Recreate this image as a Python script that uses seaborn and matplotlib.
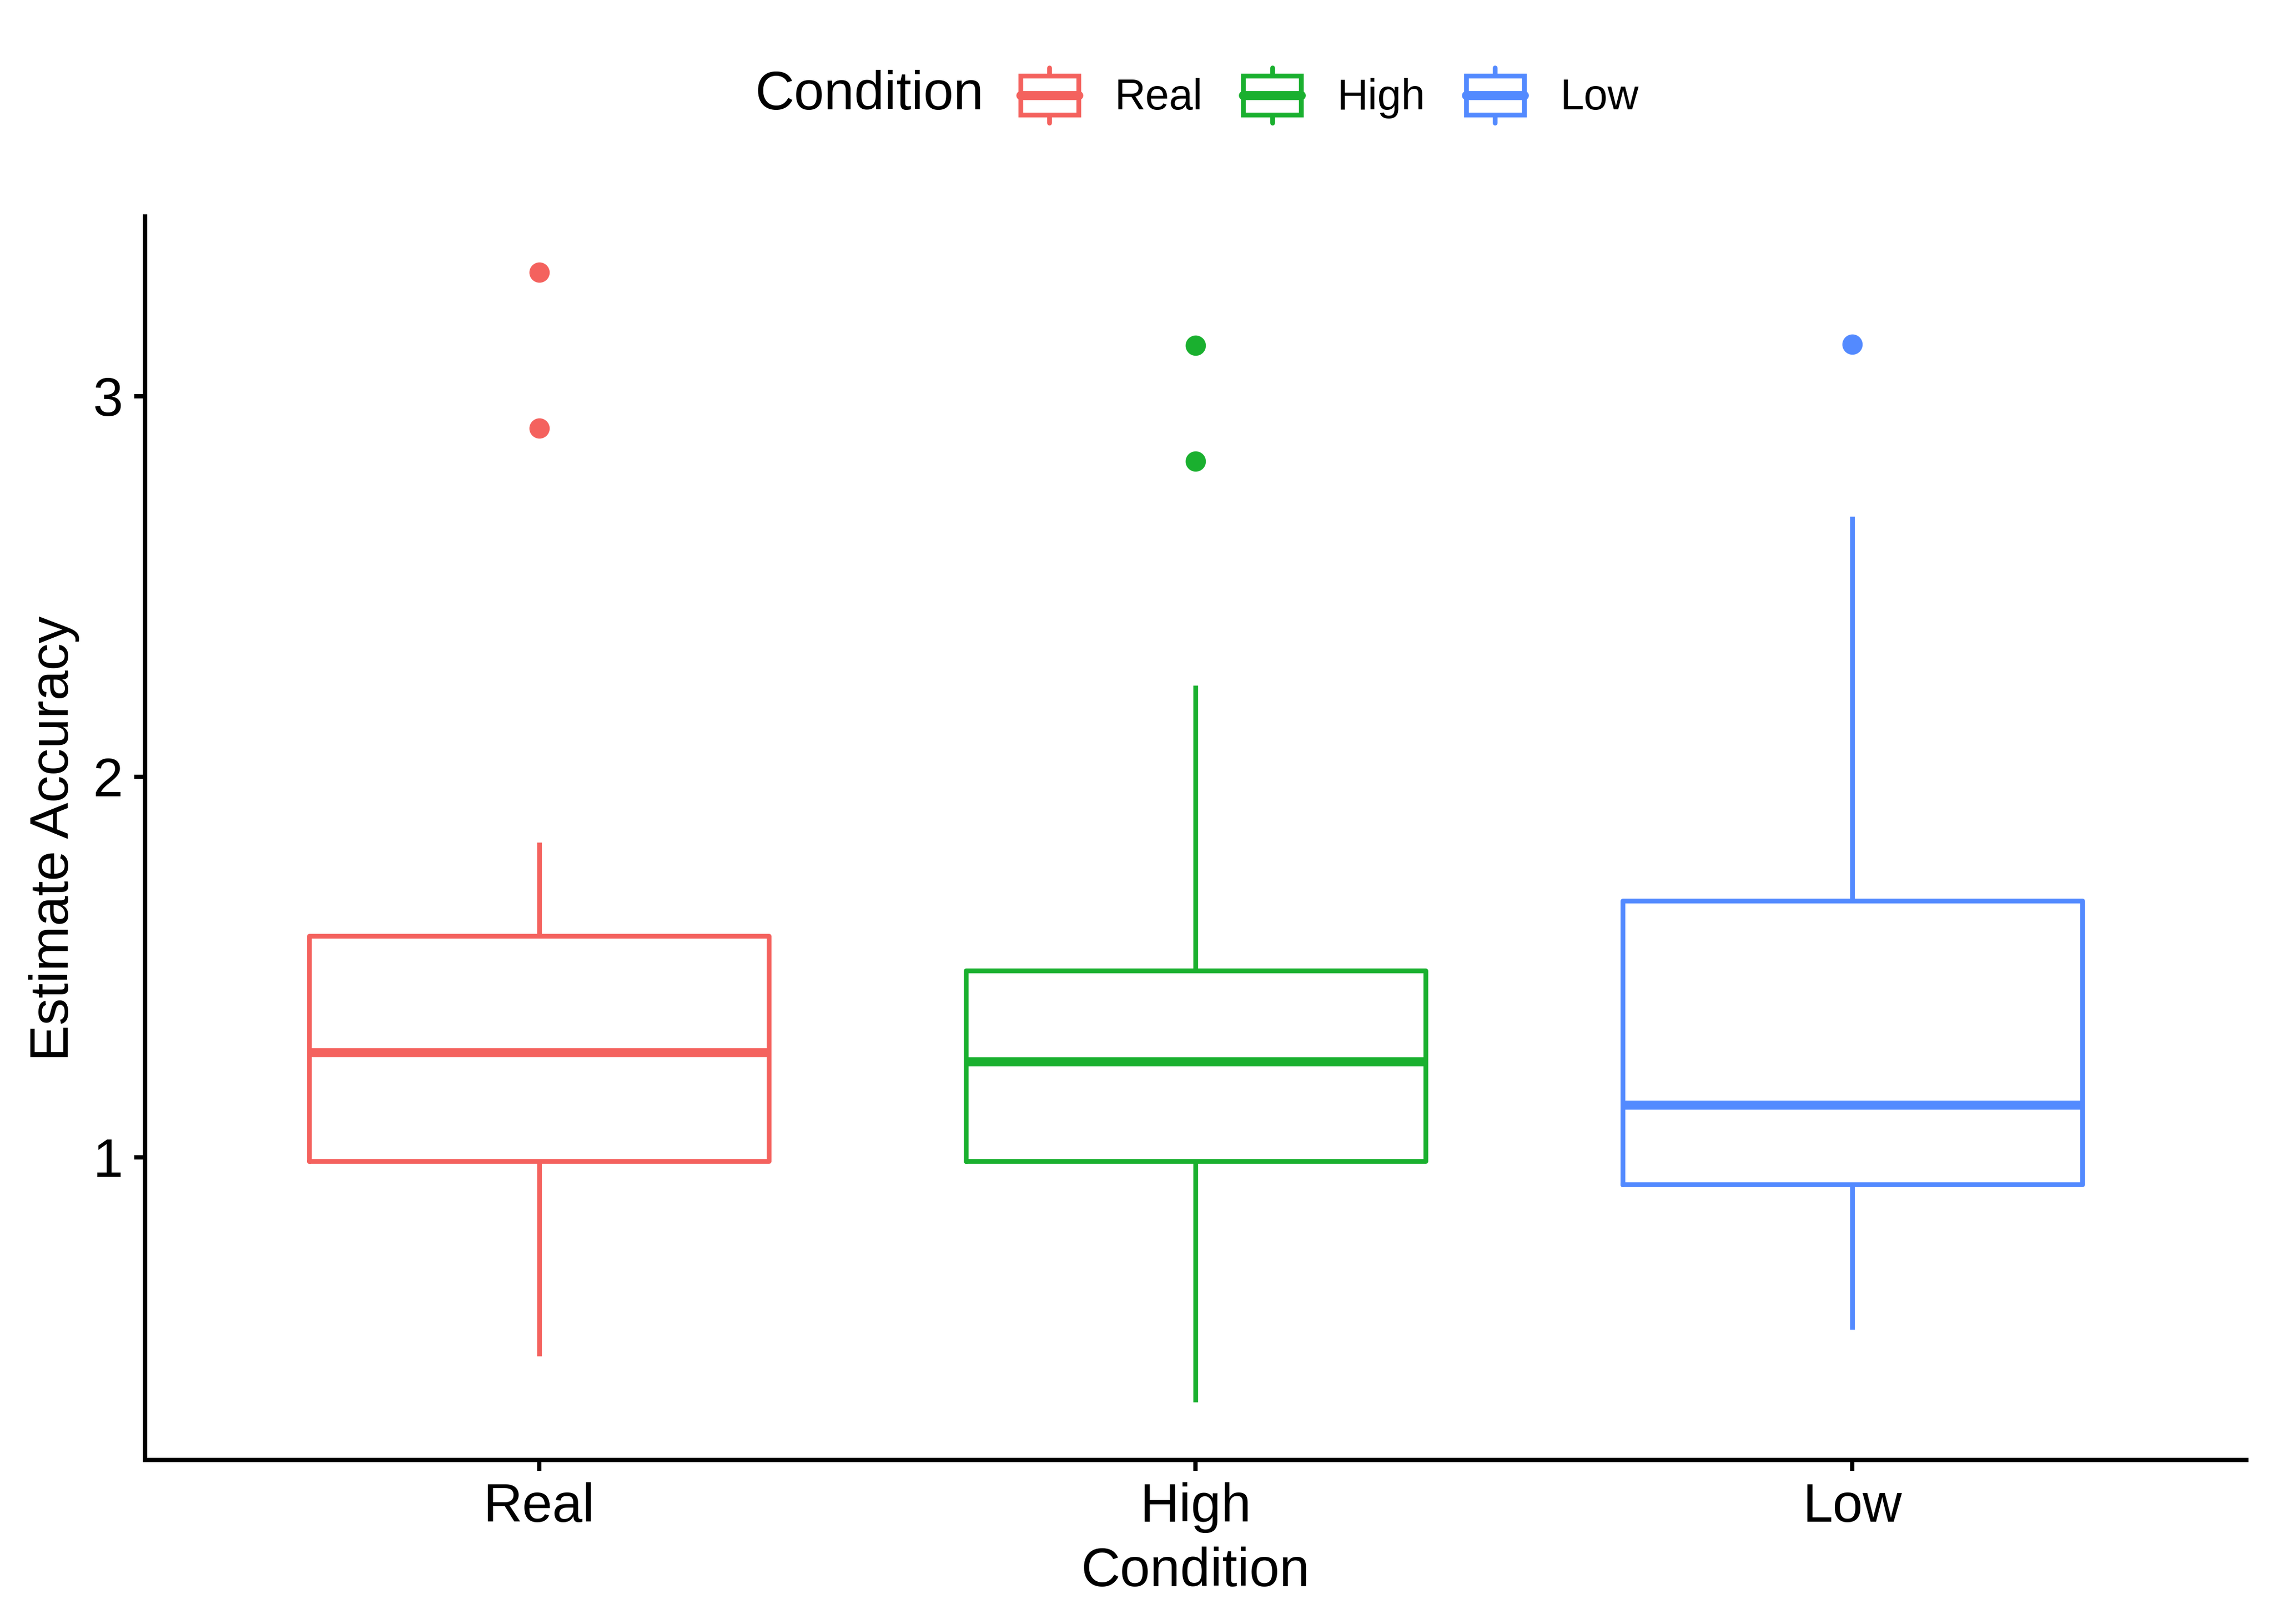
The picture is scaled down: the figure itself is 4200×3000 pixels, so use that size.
import pandas as pd
import matplotlib
matplotlib.use("Agg")
import matplotlib.pyplot as plt
import matplotlib.patches as mpatches
from matplotlib.lines import Line2D
from matplotlib.legend_handler import HandlerBase
import seaborn as sns


# Categories and colours (ggplot-like hue palette)
CONDITIONS = ["Real", "High", "Low"]
COLORS = ["#F4625E", "#1AB02F", "#538AFF"]

# Observations read off the picture for each condition
# (whisker ends, quartiles, medians and outliers)
REAL_VALUES = [0.478, 0.989, 0.989, 0.989, 1.276, 1.276, 1.276,
               1.582, 1.582, 1.582, 1.827, 2.916, 3.326]
HIGH_VALUES = [0.356, 0.989, 0.989, 0.989, 1.251, 1.251, 1.251,
               1.491, 1.491, 1.491, 2.240, 2.829, 3.133]
LOW_VALUES = [0.547, 0.928, 0.928, 0.928, 1.137, 1.137, 1.137,
              1.674, 1.674, 1.674, 2.684, 2.684, 3.136]

Y_TICKS = [1, 2, 3]


# Legend key drawn like a small boxplot glyph
class BoxGlyphHandler(HandlerBase):
    def create_artists(self, legend, orig_handle, xdescent, ydescent,
                       width, height, fontsize, trans):
        color = orig_handle.get_edgecolor()
        box_h = height * 0.70
        y0 = -ydescent + (height - box_h) / 2
        rect = mpatches.Rectangle((-xdescent, y0), width, box_h,
                                  facecolor="white", edgecolor=color,
                                  linewidth=2.1, transform=trans)
        mid = -ydescent + height / 2
        xm = -xdescent + width / 2
        median = Line2D([-xdescent, -xdescent + width], [mid, mid],
                        color=color, linewidth=4, transform=trans)
        w_low = Line2D([xm, xm], [-ydescent, y0], color=color,
                       linewidth=2.1, transform=trans)
        w_high = Line2D([xm, xm], [y0 + box_h, -ydescent + height],
                        color=color, linewidth=2.1, transform=trans)
        return [w_low, w_high, rect, median]


def build_dataframe():
    frames = []
    for name, values in zip(CONDITIONS, [REAL_VALUES, HIGH_VALUES, LOW_VALUES]):
        frames.append(pd.DataFrame({"Condition": name, "Estimate Accuracy": values}))
    return pd.concat(frames, ignore_index=True)


def draw_chart(df):
    sns.set_style("ticks")
    plt.rcParams["font.family"] = ["Liberation Sans", "DejaVu Sans"]
    plt.rcParams["text.color"] = "black"
    plt.rcParams["axes.labelcolor"] = "black"

    fig = plt.figure(figsize=(14, 10), dpi=300)
    ax = fig.add_axes([0.0638, 0.1009, 0.9240, 0.7658])

    palette = dict(zip(CONDITIONS, COLORS))
    sns.boxplot(
        data=df, x="Condition", y="Estimate Accuracy", hue="Condition",
        order=CONDITIONS, hue_order=CONDITIONS, palette=palette,
        fill=False, width=0.70, linewidth=2.1, legend=False,
        showcaps=False,
        medianprops=dict(linewidth=4),
        flierprops=dict(marker="o", markersize=9, markeredgewidth=0),
        ax=ax,
    )

    # filled outlier dots in the group colour
    for container, color in zip(ax.containers, COLORS):
        for flier in container.fliers:
            flier.set_markerfacecolor(color)
            flier.set_markeredgecolor(color)

    ax.set_xlim(-0.6, 2.6)
    ax.set_ylim(0.204, 3.472)
    ax.set_yticks(Y_TICKS)
    ax.set_yticklabels([str(t) for t in Y_TICKS])

    for side in ["top", "right"]:
        ax.spines[side].set_visible(False)
    for side in ["left", "bottom"]:
        ax.spines[side].set_linewidth(1.9)
        ax.spines[side].set_color("black")

    ax.tick_params(axis="both", length=4.8, width=1.9, color="black",
                   labelsize=24, labelcolor="black", pad=5)
    ax.set_xlabel("Condition", fontsize=24, labelpad=6, color="black")
    ax.set_ylabel("Estimate Accuracy", fontsize=24, labelpad=6, color="black")

    # legend on top, ggplot style with inline title
    handles = [mpatches.Patch(facecolor="white", edgecolor=c, label=n)
               for n, c in zip(CONDITIONS, COLORS)]
    fig.text(1395 / 4200, 1 - 176 / 3000, "Condition", fontsize=24,
             ha="left", va="center", color="black")
    fig.legend(
        handles=handles, loc="center left",
        bbox_to_anchor=(1885 / 4200, 1 - 176 / 3000),
        ncol=3, frameon=False, fontsize=19, labelcolor="black",
        handler_map={mpatches.Patch: BoxGlyphHandler()},
        handlelength=1.35, handleheight=1.6, handletextpad=0.84,
        columnspacing=0.95, borderpad=0, borderaxespad=0,
    )

    fig.savefig("out.png", dpi=300)
    plt.close(fig)


def main():
    df = build_dataframe()
    draw_chart(df)


if __name__ == "__main__":
    main()
